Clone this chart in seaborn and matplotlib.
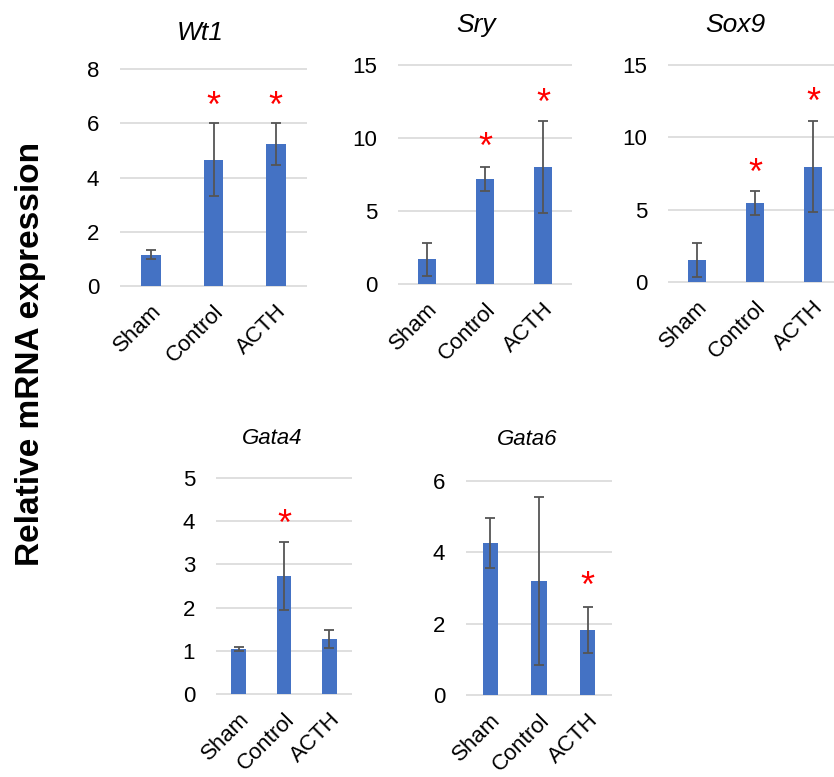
import numpy as np
import matplotlib
matplotlib.use('Agg')
import matplotlib.pyplot as plt
import seaborn as sns


    # data

groups = ['Sham', 'Control', 'ACTH']

wt1_mean = [1.17, 4.66, 5.23]
wt1_err = [0.17, 1.34, 0.77]
wt1_star = [np.nan, 6.85, 6.85]

sry_mean = [1.70, 7.20, 8.00]
sry_err = [1.13, 0.80, 3.15]
sry_star = [np.nan, 9.84, 12.8]

sox9_mean = [1.55, 5.44, 7.97]
sox9_err = [1.15, 0.82, 3.12]
sox9_star = [np.nan, 8.0, 12.87]

gata4_mean = [1.04, 2.73, 1.27]
gata4_err = [0.05, 0.79, 0.21]
gata4_star = [np.nan, 4.07, np.nan]

gata6_mean = [4.26, 3.19, 1.82]
gata6_err = [0.70, 2.35, 0.64]
gata6_star = [np.nan, np.nan, 3.25]


sns.set_style('white')
plt.rcParams['font.family'] = ['Liberation Sans', 'DejaVu Sans']
for k in ['text.color', 'xtick.color', 'ytick.color', 'axes.labelcolor']:
    plt.rcParams[k] = 'black'

W, H = 834, 777
fig = plt.figure(figsize=(W/100, H/100), dpi=100)

def px_rect(left, top, right, bottom):
    return [left/W, 1-bottom/H, (right-left)/W, (bottom-top)/H]

# title, means, errs, stars, ymax, step, rect (px), title x (axes frac), title size, title offset
panels = [
    ('Wt1', wt1_mean, wt1_err, wt1_star, 8, 2, (120, 68, 307, 287), 0.43, 19, 25),
    ('Sry', sry_mean, sry_err, sry_star, 15, 5, (398, 64, 572, 285), 0.45, 19, 28),
    ('Sox9', sox9_mean, sox9_err, sox9_star, 15, 5, (668, 64, 842, 283), 0.385, 19, 28),
    ('Gata4', gata4_mean, gata4_err, gata4_star, 5, 1, (216, 477, 352, 695), 0.41, 16, 28),
    ('Gata6', gata6_mean, gata6_err, gata6_star, 6, 2, (466, 480, 612, 696), 0.42, 16, 29),
]

star_size = 26

for title, means, errs, stars, ymax, step, rect, tx, tsize, toff in panels:
    ax = fig.add_axes(px_rect(*rect))
    sns.barplot(x=groups, y=means, color='#4472C4', saturation=1, width=0.32, linewidth=0, ax=ax)
    ax.errorbar(np.arange(len(groups)), means, yerr=errs, fmt='none', ecolor='#555555',
                elinewidth=1.3, capsize=3.5, capthick=1.3)
    for i, s in enumerate(stars):
        if not np.isnan(s):
            ax.annotate('*', xy=(i, s), xytext=(0, -0.22*star_size), textcoords='offset points',
                        color='red', fontsize=star_size, ha='center', va='center')
    ax.set_xlim(-0.5, len(groups)-0.5)
    ax.set_ylim(-ymax*0.003, ymax*1.003)
    ax.set_yticks(np.arange(0, ymax+step/2, step))
    ax.yaxis.grid(True, color='#D9D9D9', lw=1.2)
    ax.set_axisbelow(True)
    sns.despine(ax=ax, left=True, bottom=True)
    ax.tick_params(axis='y', length=0, pad=15, labelsize=16)
    ax.tick_params(axis='x', length=0, pad=10, labelsize=16)
    for lbl in ax.get_xticklabels():
        lbl.set_rotation(45)
        lbl.set_ha('right')
        lbl.set_va('top')
        lbl.set_rotation_mode('anchor')
    ax.set_xlabel('')
    ax.set_ylabel('')
    ax.annotate(title, xy=(tx, 1), xycoords='axes fraction', xytext=(0, toff),
                textcoords='offset points', ha='center', va='center',
                fontstyle='italic', fontsize=tsize)

fig.text(31/W, 1-354/H, 'Relative mRNA expression', rotation=90, fontweight='bold',
         fontsize=24, ha='center', va='center')

plt.savefig('out.png', dpi=100)
